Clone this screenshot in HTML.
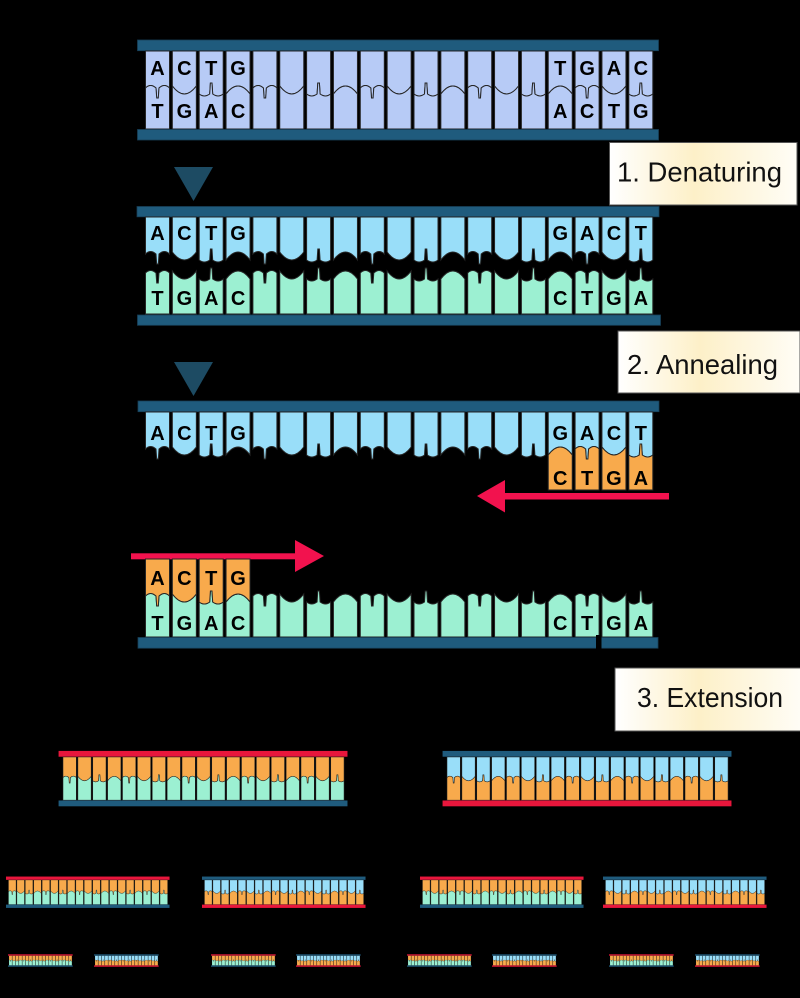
<!DOCTYPE html>
<html>
<head>
<meta charset="utf-8">
<style>
  html,body{margin:0;padding:0;background:#000;}
  svg{display:block;}
  .lt{font-family:"Liberation Sans",sans-serif;font-weight:bold;font-size:20px;fill:#000;text-anchor:middle;}
  .lb{font-family:"Liberation Sans",sans-serif;font-size:28px;fill:#111;}
</style>
</head>
<body>
<svg width="800" height="998" viewBox="0 0 800 998" xmlns="http://www.w3.org/2000/svg">
<defs>
  <linearGradient id="lbl" x1="0" y1="0" x2="1" y2="0">
    <stop offset="0" stop-color="#ffffff"/>
    <stop offset="0.45" stop-color="#fdf0c8"/>
    <stop offset="1" stop-color="#fffdf6"/>
  </linearGradient>
  <path id="t0" d="M0,-39 H24 V-2 Q19,-7 13.5,-2 L12.8,8 L11.2,8 L10.5,-2 Q5,-7 0,-2 Z"/>
  <path id="t1" d="M0,-39 H24 V-4 Q12,12 0,-4 Z"/>
  <path id="t2" d="M0,-39 H24 V4 Q19,8 13.5,4 L12.8,-7 L11.2,-7 L10.5,4 Q5,8 0,4 Z"/>
  <path id="t3" d="M0,-39 H24 V4 Q12,-12 0,4 Z"/>
  <path id="b0" d="M0,-2 Q5,-7 10.5,-2 L11.2,8 L12.8,8 L13.5,-2 Q19,-7 24,-2 V39 H0 Z"/>
  <path id="b1" d="M0,-4 Q12,12 24,-4 V39 H0 Z"/>
  <path id="b2" d="M0,4 Q5,8 10.5,4 L11.2,-7 L12.8,-7 L13.5,4 Q19,8 24,4 V39 H0 Z"/>
  <path id="b3" d="M0,4 Q12,-12 24,4 V39 H0 Z"/>
  <g id="rowT">
    <use href="#t0" x="0"/><use href="#t1" x="26.85"/><use href="#t2" x="53.7"/><use href="#t3" x="80.55"/>
    <use href="#t0" x="107.4"/><use href="#t1" x="134.25"/><use href="#t2" x="161.1"/><use href="#t3" x="187.95"/>
    <use href="#t0" x="214.8"/><use href="#t1" x="241.65"/><use href="#t2" x="268.5"/><use href="#t3" x="295.35"/>
    <use href="#t0" x="322.2"/><use href="#t1" x="349.05"/><use href="#t2" x="375.9"/><use href="#t3" x="402.75"/>
    <use href="#t0" x="429.6"/><use href="#t1" x="456.45"/><use href="#t2" x="483.3"/>
  </g>
  <g id="rowB">
    <use href="#b0" x="0"/><use href="#b1" x="26.85"/><use href="#b2" x="53.7"/><use href="#b3" x="80.55"/>
    <use href="#b0" x="107.4"/><use href="#b1" x="134.25"/><use href="#b2" x="161.1"/><use href="#b3" x="187.95"/>
    <use href="#b0" x="214.8"/><use href="#b1" x="241.65"/><use href="#b2" x="268.5"/><use href="#b3" x="295.35"/>
    <use href="#b0" x="322.2"/><use href="#b1" x="349.05"/><use href="#b2" x="375.9"/><use href="#b3" x="402.75"/>
    <use href="#b0" x="429.6"/><use href="#b1" x="456.45"/><use href="#b2" x="483.3"/>
  </g>
  <g id="dupOG">
    <rect x="-8" y="-11" width="521.5" height="10.5" fill="#e8163c"/>
    <use href="#rowT" y="39" fill="#f8aa4c" stroke="#262626" stroke-width="1"/>
    <use href="#rowB" y="39" fill="#9cf0d2" stroke="#262626" stroke-width="1"/>
    <rect x="-8" y="78.5" width="521.5" height="10.5" fill="#1f5b7d"/>
  </g>
  <g id="dupBO">
    <rect x="-8" y="-11" width="521.5" height="10.5" fill="#1f5b7d"/>
    <use href="#rowT" y="39" fill="#99def9" stroke="#262626" stroke-width="1"/>
    <use href="#rowB" y="39" fill="#f8aa4c" stroke="#262626" stroke-width="1"/>
    <rect x="-8" y="78.5" width="521.5" height="10.5" fill="#e8163c"/>
  </g>
</defs>

<rect x="0" y="0" width="800" height="998" fill="#000"/>

<!-- Section 1 -->
<rect x="137.5" y="40" width="521" height="10.7" fill="#1f5b7d" stroke="#173f57" stroke-width="0.8"/>
<use href="#rowT" transform="translate(145.5,90)" fill="#b7cbf6" stroke="#262626" stroke-width="1"/>
<use href="#rowB" transform="translate(145.5,90)" fill="#b7cbf6" stroke="#262626" stroke-width="1"/>
<rect x="137.5" y="129.5" width="521" height="10.5" fill="#1f5b7d" stroke="#173f57" stroke-width="0.8"/>
<g class="lt">
  <text x="157.5" y="75">A</text><text x="184.35" y="75">C</text><text x="211.2" y="75">T</text><text x="238.05" y="75">G</text>
  <text x="560.25" y="75">T</text><text x="587.1" y="75">G</text><text x="613.95" y="75">A</text><text x="640.8" y="75">C</text>
  <text x="157.5" y="118">T</text><text x="184.35" y="118">G</text><text x="211.2" y="118">A</text><text x="238.05" y="118">C</text>
  <text x="560.25" y="118">A</text><text x="587.1" y="118">C</text><text x="613.95" y="118">T</text><text x="640.8" y="118">G</text>
</g>

<!-- Arrow 1 -->
<polygon points="174,167 213,167 193.5,201" fill="#1d4b63"/>

<!-- Label 1 -->
<rect x="609.5" y="142.5" width="187.5" height="62.5" fill="url(#lbl)" stroke="#555" stroke-width="1"/>
<text class="lb" x="617" y="181.5" textLength="165" lengthAdjust="spacingAndGlyphs">1. Denaturing</text>

<!-- Section 2 -->
<rect x="137" y="206.5" width="522" height="10.3" fill="#1f5b7d" stroke="#173f57" stroke-width="0.8"/>
<use href="#rowT" transform="translate(145.5,256)" fill="#99def9" stroke="#262626" stroke-width="1"/>
<use href="#rowB" transform="translate(145.5,275)" fill="#9cf0d2" stroke="#262626" stroke-width="1"/>
<rect x="137.5" y="315" width="523" height="10.3" fill="#1f5b7d" stroke="#173f57" stroke-width="0.8"/>
<g class="lt">
  <text x="157.5" y="240">A</text><text x="184.35" y="240">C</text><text x="211.2" y="240">T</text><text x="238.05" y="240">G</text>
  <text x="560.25" y="240">G</text><text x="587.1" y="240">A</text><text x="613.95" y="240">C</text><text x="640.8" y="240">T</text>
  <text x="157.5" y="305">T</text><text x="184.35" y="305">G</text><text x="211.2" y="305">A</text><text x="238.05" y="305">C</text>
  <text x="560.25" y="305">C</text><text x="587.1" y="305">T</text><text x="613.95" y="305">G</text><text x="640.8" y="305">A</text>
</g>

<!-- Arrow 2 -->
<polygon points="174,362 213,362 193.5,396" fill="#1d4b63"/>

<!-- Label 2 -->
<rect x="618" y="331" width="182" height="62" fill="url(#lbl)" stroke="#555" stroke-width="1"/>
<text class="lb" x="627" y="374" textLength="151" lengthAdjust="spacingAndGlyphs">2. Annealing</text>

<!-- Section 3 -->
<rect x="138" y="401" width="521" height="10.7" fill="#1f5b7d" stroke="#173f57" stroke-width="0.8"/>
<use href="#rowT" transform="translate(145.5,451)" fill="#99def9" stroke="#262626" stroke-width="1"/>
<g transform="translate(145.5,451)" fill="#f8aa4c" stroke="#262626" stroke-width="1">
  <use href="#b3" x="402.75"/><use href="#b0" x="429.6"/><use href="#b1" x="456.45"/><use href="#b2" x="483.3"/>
</g>
<g class="lt">
  <text x="157.5" y="440">A</text><text x="184.35" y="440">C</text><text x="211.2" y="440">T</text><text x="238.05" y="440">G</text>
  <text x="560.25" y="440">G</text><text x="587.1" y="440">A</text><text x="613.95" y="440">C</text><text x="640.8" y="440">T</text>
  <text x="560.25" y="485">C</text><text x="587.1" y="485">T</text><text x="613.95" y="485">G</text><text x="640.8" y="485">A</text>
</g>
<rect x="503" y="493" width="166" height="6.5" fill="#f2124e"/>
<polygon points="477,496 505,480 505,512.5" fill="#f2124e"/>

<!-- Section 4 -->
<rect x="131" y="553.3" width="166" height="6" fill="#f2124e"/>
<polygon points="324,556 295,540 295,572" fill="#f2124e"/>
<use href="#rowB" transform="translate(145.5,598)" fill="#9cf0d2" stroke="#262626" stroke-width="1"/>
<g transform="translate(145.5,598)" fill="#f8aa4c" stroke="#262626" stroke-width="1">
  <use href="#t0" x="0"/><use href="#t1" x="26.85"/><use href="#t2" x="53.7"/><use href="#t3" x="80.55"/>
</g>
<rect x="138" y="637.5" width="520" height="10.7" fill="#1f5b7d" stroke="#173f57" stroke-width="0.8"/>
<rect x="596" y="635" width="5.5" height="15" fill="#000"/>
<g class="lt">
  <text x="157.5" y="585">A</text><text x="184.35" y="585">C</text><text x="211.2" y="585">T</text><text x="238.05" y="585">G</text>
  <text x="157.5" y="630">T</text><text x="184.35" y="630">G</text><text x="211.2" y="630">A</text><text x="238.05" y="630">C</text>
  <text x="560.25" y="630">C</text><text x="587.1" y="630">T</text><text x="613.95" y="630">G</text><text x="640.8" y="630">A</text>
</g>

<!-- Label 3 -->
<rect x="615" y="668" width="186" height="63" fill="url(#lbl)" stroke="#555" stroke-width="1"/>
<text class="lb" x="637" y="707" font-size="27" textLength="146" lengthAdjust="spacingAndGlyphs">3. Extension</text>

<!-- Section 5 -->
<use href="#dupOG" transform="translate(63,757) scale(0.554)"/>
<use href="#dupBO" transform="translate(447,757) scale(0.554)"/>

<!-- Section 6 -->
<use href="#dupOG" transform="translate(8.5,880) scale(0.3136)"/>
<use href="#dupBO" transform="translate(204.5,880) scale(0.3136)"/>
<use href="#dupOG" transform="translate(422.5,880) scale(0.3136)"/>
<use href="#dupBO" transform="translate(605.5,880) scale(0.3136)"/>

<!-- Section 7 -->
<use href="#dupOG" transform="translate(9,955.7) scale(0.124)"/>
<use href="#dupBO" transform="translate(95,955.7) scale(0.124)"/>
<use href="#dupOG" transform="translate(212,955.7) scale(0.124)"/>
<use href="#dupBO" transform="translate(297,955.7) scale(0.124)"/>
<use href="#dupOG" transform="translate(408,955.7) scale(0.124)"/>
<use href="#dupBO" transform="translate(493,955.7) scale(0.124)"/>
<use href="#dupOG" transform="translate(610,955.7) scale(0.124)"/>
<use href="#dupBO" transform="translate(696,955.7) scale(0.124)"/>
</svg>
</body>
</html>
